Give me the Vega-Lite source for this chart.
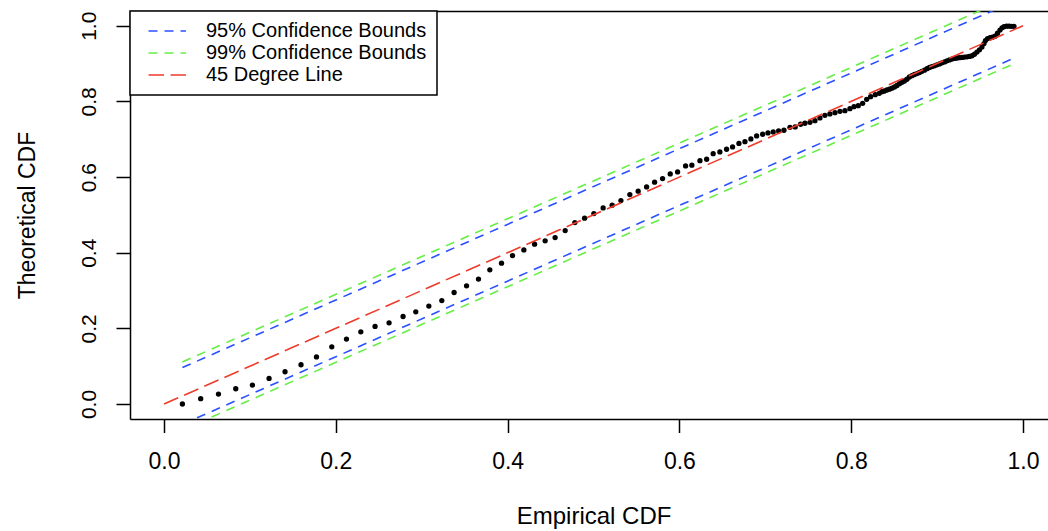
{
  "$schema": "https://vega.github.io/schema/vega-lite/v6.json",
  "autosize": "none",
  "padding": {"left": 130, "top": 11, "right": 0, "bottom": 112},
  "width": 918,
  "height": 408,
  "background": "white",
  "config": {
    "font": "Liberation Sans",
    "view": {"stroke": null},
    "axis": {
      "grid": false,
      "domainColor": "black",
      "domainWidth": 1.5,
      "tickColor": "black",
      "tickWidth": 1.5,
      "labelColor": "black",
      "titleColor": "black",
      "titleFontWeight": "normal",
      "labelFont": "Liberation Sans",
      "titleFont": "Liberation Sans"
    }
  },
  "datasets": {
    "pts": [
      {"x":0.0214,"y":0.0000},{"x":0.0427,"y":0.0140},{"x":0.0634,"y":0.0264},{"x":0.0835,"y":0.0404},
      {"x":0.1029,"y":0.0502},{"x":0.1223,"y":0.0676},{"x":0.1409,"y":0.0853},{"x":0.1595,"y":0.1038},
      {"x":0.1775,"y":0.1244},{"x":0.1953,"y":0.1513},{"x":0.2124,"y":0.1717},{"x":0.2291,"y":0.1910},
      {"x":0.2457,"y":0.2050},{"x":0.2620,"y":0.2147},{"x":0.2783,"y":0.2314},{"x":0.2931,"y":0.2438},
      {"x":0.3083,"y":0.2588},{"x":0.3234,"y":0.2736},{"x":0.3377,"y":0.2948},{"x":0.3522,"y":0.3125},
      {"x":0.3661,"y":0.3302},{"x":0.3793,"y":0.3547},{"x":0.3929,"y":0.3724},{"x":0.4057,"y":0.3925},
      {"x":0.4189,"y":0.4075},{"x":0.4314,"y":0.4226},{"x":0.4437,"y":0.4313},{"x":0.4553,"y":0.4400},
      {"x":0.4670,"y":0.4585},{"x":0.4783,"y":0.4797},{"x":0.4896,"y":0.4913},{"x":0.5004,"y":0.5034},
      {"x":0.5112,"y":0.5185},{"x":0.5217,"y":0.5256},{"x":0.5319,"y":0.5378},{"x":0.5423,"y":0.5536},
      {"x":0.5520,"y":0.5626},{"x":0.5618,"y":0.5740},{"x":0.5711,"y":0.5864},{"x":0.5804,"y":0.5959},
      {"x":0.5893,"y":0.6083},{"x":0.5979,"y":0.6136},{"x":0.6072,"y":0.6294},{"x":0.6145,"y":0.6313},
      {"x":0.6239,"y":0.6434},{"x":0.6317,"y":0.6471},{"x":0.6393,"y":0.6619},{"x":0.6471,"y":0.6664},
      {"x":0.6549,"y":0.6735},{"x":0.6619,"y":0.6796},{"x":0.6693,"y":0.6889},{"x":0.6763,"y":0.6936},
      {"x":0.6832,"y":0.7007},{"x":0.6899,"y":0.7087},{"x":0.6969,"y":0.7132},{"x":0.7031,"y":0.7166},
      {"x":0.7092,"y":0.7192},{"x":0.7155,"y":0.7219},{"x":0.7217,"y":0.7237},{"x":0.7287,"y":0.7316},
      {"x":0.7348,"y":0.7324},{"x":0.7411,"y":0.7396},{"x":0.7461,"y":0.7422},{"x":0.7520,"y":0.7448},
      {"x":0.7578,"y":0.7491},{"x":0.7636,"y":0.7562},{"x":0.7694,"y":0.7633},{"x":0.7752,"y":0.7668},
      {"x":0.7811,"y":0.7702},{"x":0.7869,"y":0.7739},{"x":0.7927,"y":0.7755},{"x":0.7985,"y":0.7808},
      {"x":0.8032,"y":0.7861},{"x":0.8082,"y":0.7887},{"x":0.8133,"y":0.7950},{"x":0.8180,"y":0.8056},
      {"x":0.8226,"y":0.8125},{"x":0.8280,"y":0.8178},{"x":0.8327,"y":0.8214},
      {"x":0.8358,"y":0.8257},{"x":0.8387,"y":0.8275},{"x":0.8416,"y":0.8302},{"x":0.8445,"y":0.8323},
      {"x":0.8474,"y":0.8350},{"x":0.8504,"y":0.8381},{"x":0.8533,"y":0.8420},{"x":0.8562,"y":0.8468},
      {"x":0.8591,"y":0.8505},{"x":0.8620,"y":0.8539},{"x":0.8649,"y":0.8586},{"x":0.8678,"y":0.8645},
      {"x":0.8707,"y":0.8680},{"x":0.8736,"y":0.8711},{"x":0.8766,"y":0.8737},{"x":0.8795,"y":0.8764},
      {"x":0.8824,"y":0.8796},{"x":0.8853,"y":0.8825},{"x":0.8882,"y":0.8865},{"x":0.8911,"y":0.8896},
      {"x":0.8940,"y":0.8920},{"x":0.8969,"y":0.8941},{"x":0.8998,"y":0.8967},{"x":0.9028,"y":0.8991},
      {"x":0.9057,"y":0.9020},{"x":0.9086,"y":0.9044},{"x":0.9115,"y":0.9073},{"x":0.9144,"y":0.9096},
      {"x":0.9173,"y":0.9120},{"x":0.9202,"y":0.9136},{"x":0.9231,"y":0.9147},{"x":0.9260,"y":0.9155},
      {"x":0.9290,"y":0.9163},{"x":0.9319,"y":0.9171},{"x":0.9348,"y":0.9179},{"x":0.9377,"y":0.9190},
      {"x":0.9406,"y":0.9207},{"x":0.9435,"y":0.9247},{"x":0.9464,"y":0.9305},{"x":0.9493,"y":0.9363},
      {"x":0.9522,"y":0.9437},{"x":0.9546,"y":0.9530},{"x":0.9563,"y":0.9609},{"x":0.9587,"y":0.9660},
      {"x":0.9616,"y":0.9684},{"x":0.9645,"y":0.9697},{"x":0.9674,"y":0.9723},{"x":0.9703,"y":0.9802},
      {"x":0.9732,"y":0.9887},{"x":0.9756,"y":0.9945},{"x":0.9779,"y":0.9976},{"x":0.9808,"y":0.9990},
      {"x":0.9837,"y":0.9990},{"x":0.9866,"y":0.9985},{"x":0.9895,"y":0.9985}
    ],
    "lines": [
      {"series":"95% Confidence Bounds","part":"u95","x":0.0214,"y":0.0964},
      {"series":"95% Confidence Bounds","part":"u95","x":0.9895,"y":1.0645},
      {"series":"95% Confidence Bounds","part":"l95","x":0.0214,"y":-0.0536},
      {"series":"95% Confidence Bounds","part":"l95","x":0.9895,"y":0.9145},
      {"series":"99% Confidence Bounds","part":"u99","x":0.0214,"y":0.1112},
      {"series":"99% Confidence Bounds","part":"u99","x":0.9895,"y":1.0793},
      {"series":"99% Confidence Bounds","part":"l99","x":0.0214,"y":-0.0684},
      {"series":"99% Confidence Bounds","part":"l99","x":0.9895,"y":0.8997},
      {"series":"45 Degree Line","part":"d45","x":0,"y":0},
      {"series":"45 Degree Line","part":"d45","x":1,"y":1}
    ]
  },
  "layer": [
    {
      "data": {"name": "pts"},
      "mark": {"type": "point", "shape": "circle", "filled": true, "color": "black", "size": 28, "opacity": 1},
      "encoding": {
        "x": {
          "field": "x", "type": "quantitative",
          "scale": {"domain": [-0.0396, 1.0291], "nice": false, "zero": false},
          "axis": {
            "orient": "bottom",
            "values": [0, 0.2, 0.4, 0.6, 0.8, 1.0],
            "format": ".1f",
            "tickSize": 13.5,
            "labelFontSize": 23,
            "labelBaseline": "alphabetic",
            "labelPadding": 36,
            "labelFlush": false,
            "labelOverlap": false,
            "title": "Empirical CDF",
            "titleFontSize": 24,
            "titleX": 463.6,
            "titleY": 104,
            "titleAlign": "center",
            "titleBaseline": "alphabetic"
          }
        },
        "y": {
          "field": "y", "type": "quantitative",
          "scale": {"domain": [-0.0396, 1.039], "nice": false, "zero": false},
          "axis": {
            "orient": "left",
            "values": [0, 0.2, 0.4, 0.6, 0.8, 1.0],
            "format": ".1f",
            "tickSize": 14,
            "labelFontSize": 21,
            "labelAngle": -90,
            "labelAlign": "center",
            "labelBaseline": "alphabetic",
            "labelPadding": 21,
            "labelFlush": false,
            "labelOverlap": false,
            "title": "Theoretical CDF",
            "titleFontSize": 23,
            "titleAngle": -90,
            "titleX": -96,
            "titleY": 204,
            "titleAlign": "center",
            "titleBaseline": "alphabetic"
          }
        }
      }
    },
    {
      "data": {"name": "lines"},
      "mark": {"type": "line", "strokeWidth": 1.6, "clip": true},
      "encoding": {
        "x": {
          "field": "x", "type": "quantitative",
          "axis": {"orient": "top", "labels": false, "ticks": false, "title": null, "domain": true, "grid": false}
        },
        "y": {"field": "y", "type": "quantitative"},
        "detail": {"field": "part"},
        "color": {
          "field": "series", "type": "nominal",
          "scale": {
            "domain": ["95% Confidence Bounds", "99% Confidence Bounds", "45 Degree Line"],
            "range": ["#2b50ff", "#66ee44", "#ee3b2b"]
          },
          "legend": {
            "title": null,
            "orient": "none",
            "legendX": 0,
            "legendY": 0,
            "strokeColor": "black",
            "fillColor": "white",
            "padding": 10,
            "symbolType": "M-2.34,0H2.34",
            "symbolSize": 256,
            "symbolStrokeWidth": 1.6,
            "symbolOffset": 17.25,
            "labelOffset": 28.75,
            "labelFontSize": 20,
            "labelFont": "Liberation Sans",
            "labelColor": "black",
            "labelLimit": 400,
            "rowPadding": 2,
            "encode": {"legend": {"update": {"strokeWidth": {"value": 1.5}}}}
          }
        },
        "strokeDash": {
          "field": "series", "type": "nominal",
          "scale": {
            "domain": ["95% Confidence Bounds", "99% Confidence Bounds", "45 Degree Line"],
            "range": [[9, 7], [9, 7], [15.5, 6.5]]
          },
          "legend": {
            "title": null,
            "orient": "none",
            "legendX": 0,
            "legendY": 0,
            "strokeColor": "black",
            "fillColor": "white",
            "padding": 10,
            "symbolType": "M-2.34,0H2.34",
            "symbolSize": 256,
            "symbolStrokeWidth": 1.6,
            "symbolOffset": 17.25,
            "labelOffset": 28.75,
            "labelFontSize": 20,
            "labelFont": "Liberation Sans",
            "labelColor": "black",
            "labelLimit": 400,
            "rowPadding": 2,
            "encode": {"legend": {"update": {"strokeWidth": {"value": 1.5}}}}
          }
        }
      }
    }
  ]
}
